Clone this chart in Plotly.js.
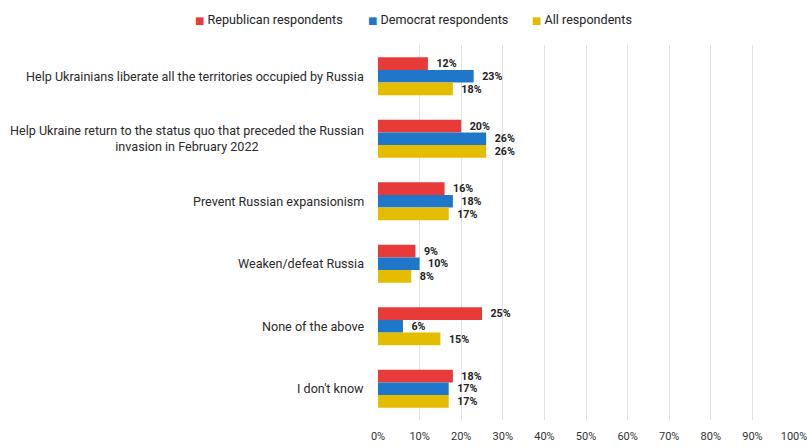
<!DOCTYPE html>
<html>
<head>
<meta charset="utf-8">
<script src="https://cdn.plot.ly/plotly-3.0.1.min.js"></script>
<style>html,body{margin:0;padding:0;background:#fff;}#chart{width:807px;height:447px;}</style>
</head>
<body>
<div id="chart"></div>
<script>
const categories = [
  "Help Ukrainians liberate all the territories occupied by Russia",
  "Help Ukraine return to the status quo that preceded the Russian<br>invasion in February 2022",
  "Prevent Russian expansionism",
  "Weaken/defeat Russia",
  "None of the above",
  "I don't know"
];
const republican = [12, 20, 16, 9, 25, 18];
const democrat = [23, 26, 18, 10, 6, 17];
const allResp = [18, 26, 17, 8, 15, 17];
const seriesNames = ["Republican respondents", "Democrat respondents", "All respondents"];
const colors = ["#e93a3a", "#1f77c9", "#e5bd00"];
const xTicks = [0, 10, 20, 30, 40, 50, 60, 70, 80, 90, 100];

const font = "Roboto, 'Open Sans', Arial, sans-serif";
const series = [republican, democrat, allResp];
const traces = series.map((vals, i) => ({
  type: "bar",
  orientation: "h",
  name: seriesNames[i],
  y: categories,
  x: vals,
  text: vals.map(v => "\u2002<b>" + v + "%</b>"),
  textposition: "outside",
  textfont: {family: font, size: 11.8, color: "#222"},
  cliponaxis: false,
  marker: {color: colors[i]},
  hoverinfo: "none",
  showlegend: false
}));

const plotL = 378, plotW = 416;
const toPaper = px => (px - plotL) / plotW;

const annotations = categories.map(c => ({
  xref: "paper", yref: "y", x: 0, y: c,
  xshift: -12, xanchor: "right", yanchor: "middle",
  align: "center", showarrow: false,
  text: c, font: {family: font, size: 12.6, color: "#2a2a2a"}
}));

// custom legend (small square swatches like the reference)
const legendX = [193, 366, 530];
seriesNames.forEach((n, i) => {
  annotations.push({
    xref: "paper", yref: "paper", x: toPaper(legendX[i]), y: 1, yshift: 26,
    xanchor: "left", yanchor: "middle", showarrow: false,
    text: '<span style="color:' + colors[i] + ';font-family:DejaVu Sans;font-size:10px">■</span> ' + n,
    font: {family: font, size: 12.6, color: "#222"}
  });
});

const layout = {
  width: 807, height: 447,
  margin: {l: plotL, r: 807 - plotL - plotW, t: 45, b: 27},
  paper_bgcolor: "#fff", plot_bgcolor: "#fff",
  barmode: "group",
  bargap: 0.39,
  bargroupgap: 0,
  font: {family: font, color: "#333"},
  showlegend: false,
  xaxis: {
    range: [0, 100],
    tickvals: xTicks,
    ticktext: xTicks.map(v => v + "%"),
    showgrid: true, gridcolor: "#e3e3e3", gridwidth: 1,
    zeroline: false, showline: false,
    tickfont: {family: font, size: 11, color: "#333"},
    ticks: "", ticklabelstandoff: 8,
    ticklabeloverflow: "allow"
  },
  yaxis: {
    autorange: "reversed",
    showticklabels: false,
    showgrid: false, zeroline: false, showline: false,
    ticks: ""
  },
  annotations: annotations
};

Plotly.newPlot("chart", traces, layout, {displayModeBar: false, staticPlot: true});
</script>
</body>
</html>
